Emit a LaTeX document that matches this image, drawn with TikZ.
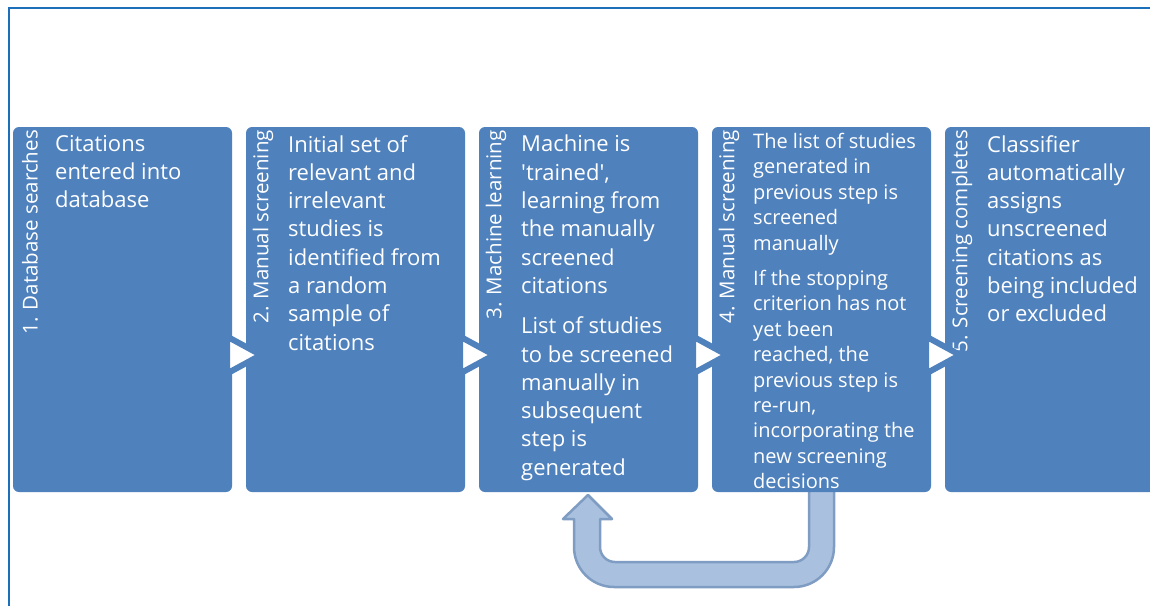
\documentclass[tikz,border=0pt]{standalone}
\usepackage{fontspec}
\setmainfont{Open Sans}
\usetikzlibrary{positioning}
\usetikzlibrary{backgrounds}
\definecolor{stepblue}{HTML}{4F81BD}
\definecolor{loopfill}{HTML}{A9C1DF}
\definecolor{loopline}{HTML}{7F9CC3}
\definecolor{framecol}{HTML}{1E6FBA}
\tikzstyle{stepbox} = [fill=stepblue, rounded corners=6pt, minimum width=219pt, minimum height=365pt, inner sep=0pt, outer sep=0pt]
\tikzstyle{steplabel} = [rotate=90, anchor=east, text=white, inner sep=0pt, font=\fontsize{20.5}{23}\selectfont]
\tikzstyle{steptext} = [anchor=north west, text=white, align=left, inner sep=0pt, font=\fontsize{22}{28.3}\selectfont]
\tikzstyle{smalltext} = [steptext, font=\fontsize{20}{25.4}\selectfont]
\tikzstyle{chevron} = [fill=white, draw=stepblue, line width=6pt, line join=miter]
\tikzstyle{loopback} = [fill=loopfill, draw=loopline, line width=2.5pt, line join=round]

\begin{document}
\begin{tikzpicture}[x=1pt, y=1pt, node distance=14pt]
    \useasboundingbox (0,0) rectangle (1150,-605);
    \clip (0,0) rectangle (1150,-605);
    % frame
    \draw[framecol, line width=2pt] (1150,-7.5) -| (9,-606);
    % the five steps
    \node[stepbox, anchor=north west] (s1) at (13,-127) {};
    \node[stepbox, right=of s1] (s2) {};
    \node[stepbox, right=of s2] (s3) {};
    \node[stepbox, right=of s3] (s4) {};
    \node[stepbox, right=of s4] (s5) {};
    % step titles
    \node[steplabel] (l1) at ([shift={(17,-3)}]s1.north west) {1. Database searches};
    \node[steplabel] (l2) at ([shift={(17,-3)}]s2.north west) {2. Manual screening};
    \node[steplabel] (l3) at ([shift={(17,-3)}]s3.north west) {3. Machine learning};
    \node[steplabel] (l4) at ([shift={(17,-3)}]s4.north west) {4. Manual screening};
    \node[steplabel] (l5) at ([shift={(17,-3)}]s5.north west) {5. Screening completes};
    % step texts
    \node[steptext] (t1) at ([shift={(42,-8)}]s1.north west) {Citations\\entered into\\database};
    \node[steptext] (t2) at ([shift={(42,-8)}]s2.north west) {Initial set of\\relevant and\\irrelevant\\studies is\\identified from\\a random\\sample of\\citations};
    \node[steptext] (t3) at ([shift={(42,-8)}]s3.north west) {Machine is\\\textquotesingle trained\textquotesingle,\\learning from\\the manually\\screened\\citations\\[12pt]List of studies\\to be screened\\manually in\\subsequent\\step is\\generated};
    \node[smalltext] (t4) at ([shift={(41,-6)}]s4.north west) {The list of studies\\generated in\\previous step is\\screened\\manually\\[10pt]If the stopping\\criterion has not\\yet been\\reached, the\\previous step is\\re-run,\\incorporating the\\new screening\\decisions};
    \node[steptext] (t5) at ([shift={(42,-8)}]s5.north west) {Classifier\\automatically\\assigns\\unscreened\\citations as\\being included\\or excluded};
    % arrows between the steps
    \draw[chevron] ([shift={(-5,-209.5)}]s1.north east) -- ++(34,-18.5) -- ++(-34,-18.5) -- cycle;
    \draw[chevron] ([shift={(-5,-209.5)}]s2.north east) -- ++(34,-18.5) -- ++(-34,-18.5) -- cycle;
    \draw[chevron] ([shift={(-5,-209.5)}]s3.north east) -- ++(34,-18.5) -- ++(-34,-18.5) -- cycle;
    \draw[chevron] ([shift={(-5,-209.5)}]s4.north east) -- ++(34,-18.5) -- ++(-34,-18.5) -- cycle;
    % loop from step 4 back to step 3
    \begin{pgfonlayer}{background}
    \draw[loopback] ([xshift=122pt,yshift=4pt]s4.south west) -- ++(0,-59)
        arc[start angle=0, end angle=-90, radius=40pt] -- ++(-180,0)
        arc[start angle=-90, end angle=-180, radius=40pt] -- ++(0,28)
        -- ++(-11,0) -- ++(25,24) -- ++(24,-24) -- ++(-12,0) -- ++(0,-28)
        arc[start angle=180, end angle=270, radius=15pt] -- ++(179,0)
        arc[start angle=270, end angle=360, radius=15pt] -- ++(0,59) -- cycle;
    \end{pgfonlayer}
\end{tikzpicture}
\end{document}
